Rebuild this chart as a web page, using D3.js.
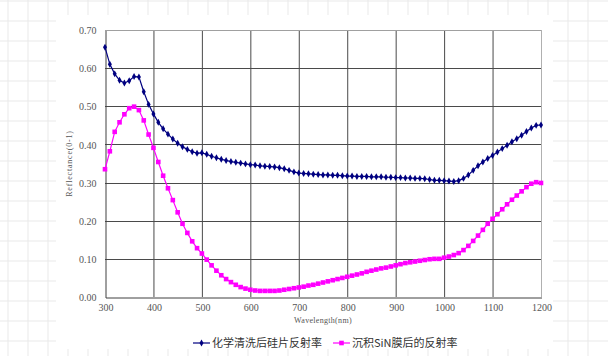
<!DOCTYPE html>
<html><head><meta charset="utf-8">
<script src="https://cdn.jsdelivr.net/npm/d3@7"></script>
<style>body{margin:0;background:#fff}svg{display:block}</style>
</head><body>
<svg id="c" width="608" height="356"></svg>
<script>
const wavelengths = d3.range(300, 1201, 10);
const xTicks = [300,400,500,600,700,800,900,1000,1100,1200];
const yTicks = [0,0.1,0.2,0.3,0.4,0.5,0.6,0.7];
const seriesNames = ["化学清洗后硅片反射率", "沉积SiN膜后的反射率"];
const cleanedSi = [
0.655,0.610,0.585,0.568,0.561,0.567,0.578,0.577,0.538,0.505,
0.480,0.458,0.441,0.427,0.414,0.403,0.394,0.387,0.381,0.377,
0.378,0.374,0.369,0.365,0.361,0.358,0.355,0.353,0.351,0.349,
0.347,0.346,0.344,0.343,0.342,0.341,0.339,0.336,0.332,0.328,
0.325,0.324,0.323,0.322,0.321,0.320,0.320,0.319,0.319,0.318,
0.317,0.317,0.316,0.316,0.316,0.315,0.315,0.315,0.314,0.314,
0.313,0.313,0.312,0.312,0.311,0.311,0.310,0.308,0.306,0.306,
0.305,0.304,0.303,0.305,0.311,0.320,0.332,0.344,0.354,0.363,
0.371,0.380,0.389,0.398,0.407,0.415,0.424,0.434,0.443,0.450,0.451];
const sinFilm = [
0.335,0.382,0.433,0.458,0.479,0.495,0.499,0.490,0.463,0.426,
0.391,0.354,0.318,0.285,0.254,0.222,0.192,0.168,0.146,0.128,
0.114,0.098,0.083,0.069,0.057,0.047,0.039,0.032,0.026,0.022,
0.019,0.017,0.016,0.016,0.016,0.016,0.017,0.019,0.021,0.023,
0.025,0.027,0.030,0.032,0.035,0.038,0.041,0.044,0.047,0.050,
0.053,0.056,0.059,0.062,0.066,0.069,0.072,0.075,0.077,0.080,
0.083,0.086,0.089,0.091,0.093,0.095,0.097,0.099,0.100,0.100,
0.103,0.106,0.110,0.115,0.123,0.134,0.147,0.161,0.176,0.192,
0.205,0.217,0.230,0.243,0.255,0.266,0.277,0.288,0.297,0.301,0.299];

const svg = d3.select("#c");
const W = 608, H = 356;

// page background faint grid
const bg = svg.append("g");
d3.range(8, W, 20).forEach(x => bg.append("line").attr("x1", x).attr("x2", x).attr("y1", 0).attr("y2", H).attr("stroke", "#e9e9e9"));
d3.range(1, H, 20).forEach(y => bg.append("line").attr("y1", y).attr("y2", y).attr("x1", 0).attr("x2", W).attr("stroke", "#e9e9e9"));
svg.append("rect").attr("x", 56).attr("y", 15).attr("width", 497).attr("height", 334).attr("fill", "#fff");

const m = {l:105, r:541, t:30, b:297};
const x = d3.scaleLinear().domain([300,1200]).range([m.l, m.r]);
const y = d3.scaleLinear().domain([0,0.7]).range([m.b, m.t]);

// grid
const g = svg.append("g");
xTicks.forEach((t,i) => {
  if (i === 0 || i === xTicks.length-1) return;
  g.append("line").attr("x1", x(t)+0.5).attr("x2", x(t)+0.5).attr("y1", m.t).attr("y2", m.b).attr("stroke", "#4a4a4a").attr("stroke-width", 1);
});
yTicks.forEach((t,i) => {
  if (i === 0 || i === yTicks.length-1) return;
  g.append("line").attr("x1", m.l).attr("x2", m.r).attr("y1", Math.round(y(t))+0.5).attr("y2", Math.round(y(t))+0.5).attr("stroke", "#4a4a4a");
});
// frame
g.append("line").attr("x1", m.l).attr("x2", m.r).attr("y1", m.t+0.5).attr("y2", m.t+0.5).attr("stroke", "#a0a0a0");
g.append("line").attr("x1", m.r+0.5).attr("x2", m.r+0.5).attr("y1", m.t).attr("y2", m.b).attr("stroke", "#b0b0b0");

// axes
const font = "'Liberation Serif','DejaVu Serif',serif";
const xAxis = svg.append("g").attr("transform", `translate(0.5,${m.b+0.5})`)
  .call(d3.axisBottom(x).tickValues(xTicks).tickSize(0).tickPadding(6).tickFormat(d3.format("d")));
const yAxis = svg.append("g").attr("transform", `translate(${m.l+0.5},0.5)`)
  .call(d3.axisLeft(y).tickValues(yTicks).tickSize(0).tickPadding(9).tickFormat(d3.format(".2f")));
[xAxis, yAxis].forEach(a => {
  a.select(".domain").attr("stroke", "#404040");
  a.selectAll("text").attr("font-family", font).attr("font-size", 10).attr("fill", "#555");
});

svg.append("text").attr("x", (m.l+m.r)/2).attr("y", 323).attr("text-anchor", "middle")
  .attr("font-family", font).attr("font-size", 8).attr("letter-spacing", 0.3).attr("fill", "#555").text("Wavelength(nm)");
svg.append("text").attr("transform", `translate(72,${(m.t+m.b)/2}) rotate(-90)`).attr("text-anchor", "middle")
  .attr("font-family", font).attr("font-size", 8).attr("letter-spacing", 0.8).attr("fill", "#555").text("Reflectance(0-1)");

// series
const colors = ["#000080", "#ff00ff"];
const data = [cleanedSi, sinFilm];
const line = d3.line().x((d,i) => x(wavelengths[i])).y(d => y(d));
const diamond = d3.symbol().type(d3.symbolDiamond).size(14);
data.forEach((vals, s) => {
  svg.append("path").datum(vals).attr("d", line).attr("fill", "none").attr("stroke", colors[s]).attr("stroke-width", 1.2);
  const pts = svg.append("g");
  vals.forEach((v,i) => {
    if (s === 0) {
      pts.append("path").attr("d", diamond).attr("transform", `translate(${x(wavelengths[i])},${y(v)})`).attr("fill", colors[s]);
    } else {
      pts.append("rect").attr("x", x(wavelengths[i])-2.3).attr("y", y(v)-2.3).attr("width", 4.6).attr("height", 4.6).attr("fill", colors[s]);
    }
  });
});

// legend
const lg = svg.append("g");
const legendX = [193, 333];
seriesNames.forEach((n, s) => {
  const lx = legendX[s], ly = 343;
  lg.append("line").attr("x1", lx).attr("x2", lx+17).attr("y1", ly).attr("y2", ly).attr("stroke", colors[s]).attr("stroke-width", 1.2);
  if (s === 0) lg.append("path").attr("d", diamond).attr("transform", `translate(${lx+8.5},${ly})`).attr("fill", colors[s]);
  else lg.append("rect").attr("x", lx+8.5-2.3).attr("y", ly-2.3).attr("width", 4.6).attr("height", 4.6).attr("fill", colors[s]);
  lg.append("text").attr("x", lx+19).attr("y", ly+4).attr("font-family", "'Noto Sans CJK SC','Noto Sans',sans-serif")
    .attr("font-size", 11).attr("fill", "#333").text(n);
});
</script>
</body></html>
